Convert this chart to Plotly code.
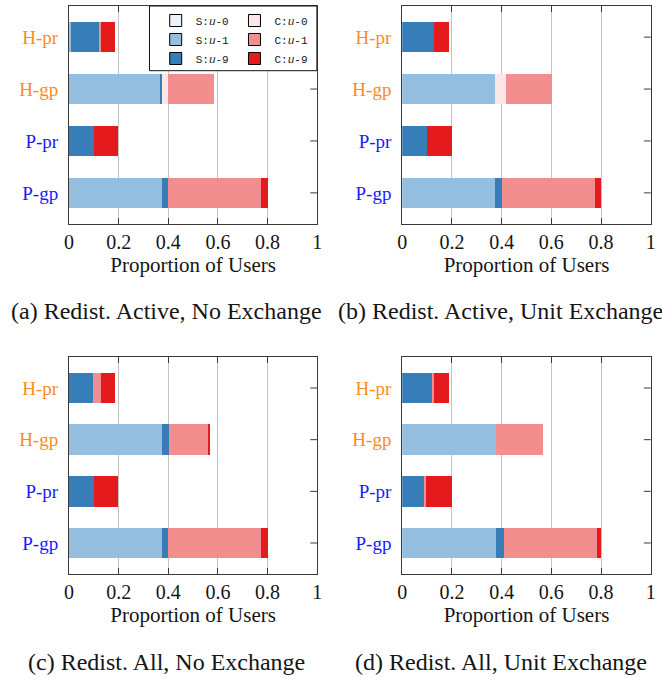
import plotly.graph_objects as go

# ---------------- data ----------------
categories = ["P-gp", "P-pr", "H-gp", "H-pr"]          # bottom -> top
category_colors = ["#1a1aff", "#1a1aff", "#ff8c1a", "#ff8c1a"]
x_tick_vals = [0, 0.2, 0.4, 0.6, 0.8, 1]
x_tick_text = ["0", "0.2", "0.4", "0.6", "0.8", "1"]

series_names = ["S:u-0", "S:u-1", "S:u-9", "C:u-0", "C:u-1", "C:u-9"]
series_labels = ["S:<i>u</i>-0", "S:<i>u</i>-1", "S:<i>u</i>-9",
                 "C:<i>u</i>-0", "C:<i>u</i>-1", "C:<i>u</i>-9"]
series_colors = ["#ebf2f8", "#95bfe1", "#377eb8", "#fde6e6", "#f28e8e", "#e41a1c"]

panel_titles = ["(a) Redist. Active, No Exchange",
                "(b) Redist. Active, Unit Exchange",
                "(c) Redist. All, No Exchange",
                "(d) Redist. All, Unit Exchange"]

# panel (a)          P-gp   P-pr   H-gp   H-pr
a_s_u0 = [0.000, 0.000, 0.000, 0.000]
a_s_u1 = [0.374, 0.000, 0.366, 0.007]
a_s_u9 = [0.024, 0.099, 0.009, 0.112]
a_c_u0 = [0.000, 0.000, 0.022, 0.000]
a_c_u1 = [0.376, 0.000, 0.186, 0.009]
a_c_u9 = [0.026, 0.099, 0.000, 0.058]

# panel (b)
b_s_u0 = [0.000, 0.000, 0.000, 0.000]
b_s_u1 = [0.374, 0.000, 0.375, 0.000]
b_s_u9 = [0.029, 0.099, 0.000, 0.127]
b_c_u0 = [0.000, 0.000, 0.044, 0.000]
b_c_u1 = [0.374, 0.000, 0.186, 0.000]
b_c_u9 = [0.025, 0.102, 0.000, 0.062]

# panel (c)
c_s_u0 = [0.000, 0.000, 0.000, 0.000]
c_s_u1 = [0.374, 0.000, 0.374, 0.000]
c_s_u9 = [0.024, 0.099, 0.027, 0.097]
c_c_u0 = [0.000, 0.000, 0.000, 0.000]
c_c_u1 = [0.376, 0.000, 0.161, 0.031]
c_c_u9 = [0.026, 0.099, 0.003, 0.058]

# panel (d)
d_s_u0 = [0.000, 0.000, 0.000, 0.000]
d_s_u1 = [0.377, 0.000, 0.378, 0.000]
d_s_u9 = [0.035, 0.091, 0.000, 0.123]
d_c_u0 = [0.000, 0.000, 0.000, 0.000]
d_c_u1 = [0.371, 0.005, 0.188, 0.005]
d_c_u9 = [0.019, 0.105, 0.000, 0.061]

panel_data = [
    [a_s_u0, a_s_u1, a_s_u9, a_c_u0, a_c_u1, a_c_u9],
    [b_s_u0, b_s_u1, b_s_u9, b_c_u0, b_c_u1, b_c_u9],
    [c_s_u0, c_s_u1, c_s_u9, c_c_u0, c_c_u1, c_c_u9],
    [d_s_u0, d_s_u1, d_s_u9, d_c_u0, d_c_u1, d_c_u9],
]

# ---------------- layout geometry ----------------
W, H = 662, 678
SERIF = "Liberation Serif"
MONO = "Liberation Mono"
AXIS_COL = "#3a3a3a"
GRID_COL = "#c4c4c4"
TXT = "#151515"

x_domains = [[65 / W, 317 / W], [403.3 / W, 655.7 / W],
             [65 / W, 317 / W], [403.3 / W, 655.7 / W]]
y_domains = [[1 - 224 / H, 1 - 6 / H], [1 - 224 / H, 1 - 6 / H],
             [1 - 574 / H, 1 - 357 / H], [1 - 574 / H, 1 - 357 / H]]
caption_x = [163.5 / W, 503.5 / W, 163.5 / W, 503.5 / W]
caption_y = [1 - 311.5 / H, 1 - 311.5 / H, 1 - 661.5 / H, 1 - 661.5 / H]

fig = go.Figure()

for k in range(4):
    ax = "" if k == 0 else str(k + 1)
    for j, name in enumerate(series_names):
        fig.add_trace(go.Bar(
            y=categories, x=panel_data[k][j], orientation="h",
            name=name, marker=dict(color=series_colors[j], line=dict(width=0)),
            width=0.59, showlegend=False,
            xaxis="x" + ax, yaxis="y" + ax,
        ))

# legend-only traces (two columns: S column = legend, C column = legend2)
for j, name in enumerate(series_names):
    fig.add_trace(go.Bar(
        x=[None], y=[None], orientation="h", name=series_labels[j],
        marker=dict(color=series_colors[j], line=dict(color="#000000", width=1)),
        showlegend=True, legend="legend" if j < 3 else "legend2",
        xaxis="x", yaxis="y",
    ))

LEG_S_L = 153
LEG_C_L = 233
LEG_T = 6
leg_common = dict(yanchor="top", xanchor="left", bgcolor="rgba(0,0,0,0)",
                  borderwidth=0, traceorder="normal", itemwidth=30,
                  tracegroupgap=0, font=dict(family=MONO, size=11, color=TXT))
layout = dict(
    width=W, height=H, margin=dict(l=0, r=0, t=0, b=0),
    paper_bgcolor="white", plot_bgcolor="white",
    barmode="stack", bargap=0,
    font=dict(family=SERIF, size=20, color=TXT),
    legend=dict(x=LEG_S_L / W, y=1 - LEG_T / H, **leg_common),
    legend2=dict(x=LEG_C_L / W, y=1 - LEG_T / H, **leg_common),
)

ytext = ['<span style="color:%s">%s</span>' % (c, t)
         for t, c in zip(categories, category_colors)]

shapes = []
annotations = []
for k in range(4):
    ax = "" if k == 0 else str(k + 1)
    layout["xaxis" + ax] = dict(
        domain=x_domains[k], anchor="y" + ax, range=[0, 1],
        tickmode="array", tickvals=x_tick_vals, ticktext=x_tick_text,
        ticks="inside", ticklen=6, tickcolor=AXIS_COL, tickwidth=1,
        showline=True, linecolor=AXIS_COL, linewidth=1, mirror="ticks",
        showgrid=True, gridcolor=GRID_COL, gridwidth=1, zeroline=False,
        tickfont=dict(family=SERIF, size=20, color=TXT),
        title=dict(text="Proportion of Users", standoff=5,
                   font=dict(family=SERIF, size=21, color=TXT)),
        fixedrange=True,
    )
    layout["yaxis" + ax] = dict(
        domain=y_domains[k], anchor="x" + ax,
        type="category", categoryorder="array", categoryarray=categories,
        range=[-0.6, len(categories) - 0.4],
        tickmode="array", tickvals=categories, ticktext=ytext,
        ticks="", showline=True, linecolor=AXIS_COL, linewidth=1, mirror=True,
        showgrid=False, zeroline=False, ticklabelstandoff=6,
        tickfont=dict(family=SERIF, size=19),
        fixedrange=True,
    )
    # inward ticks on the right spine at each category
    for i, _ in enumerate(categories):
        shapes.append(dict(type="line", xref="x" + ax + " domain", yref="y" + ax,
                           x0=1 - 7 / 252, x1=1, y0=i, y1=i,
                           line=dict(color=AXIS_COL, width=1)))
    annotations.append(dict(text=panel_titles[k], xref="paper", yref="paper",
                            x=caption_x[k], y=caption_y[k], xanchor="center",
                            yanchor="middle", showarrow=False,
                            font=dict(family=SERIF, size=24, color=TXT)))

# legend frame
shapes.append(dict(type="rect", xref="paper", yref="paper",
                   x0=146.7 / W, x1=316.7 / W, y0=1 - 70.7 / H, y1=1 - 6 / H,
                   fillcolor="white", line=dict(color="#111111", width=1),
                   layer="above"))

layout["shapes"] = shapes
layout["annotations"] = annotations
fig.update_layout(**layout)

fig.write_html("out.html", config={"displayModeBar": False},
               post_script="document.body.style.margin='0px';")
